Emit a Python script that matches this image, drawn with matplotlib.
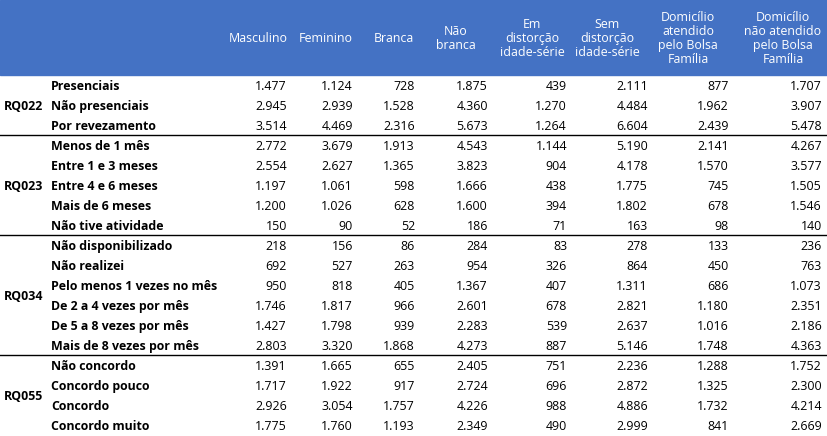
import matplotlib.pyplot as plt

headers = ["Masculino", "Feminino", "Branca", "Não\nbranca", "Em\ndistorção\nidade-série",
           "Sem\ndistorção\nidade-série", "Domicílio\natendido\npelo Bolsa\nFamília",
           "Domicílio\nnão atendido\npelo Bolsa\nFamília"]
groups = ["RQ022", "RQ023", "RQ034", "RQ055"]
labels = [
    ["Presenciais", "Não presenciais", "Por revezamento"],
    ["Menos de 1 mês", "Entre 1 e 3 meses", "Entre 4 e 6 meses", "Mais de 6 meses", "Não tive atividade"],
    ["Não disponibilizado", "Não realizei", "Pelo menos 1 vezes no mês", "De 2 a 4 vezes por mês",
     "De 5 a 8 vezes por mês", "Mais de 8 vezes por mês"],
    ["Não concordo", "Concordo pouco", "Concordo", "Concordo muito"],
]
values = [
    [["1.477", "1.124", "728", "1.875", "439", "2.111", "877", "1.707"],
     ["2.945", "2.939", "1.528", "4.360", "1.270", "4.484", "1.962", "3.907"],
     ["3.514", "4.469", "2.316", "5.673", "1.264", "6.604", "2.439", "5.478"]],
    [["2.772", "3.679", "1.913", "4.543", "1.144", "5.190", "2.141", "4.267"],
     ["2.554", "2.627", "1.365", "3.823", "904", "4.178", "1.570", "3.577"],
     ["1.197", "1.061", "598", "1.666", "438", "1.775", "745", "1.505"],
     ["1.200", "1.026", "628", "1.600", "394", "1.802", "678", "1.546"],
     ["150", "90", "52", "186", "71", "163", "98", "140"]],
    [["218", "156", "86", "284", "83", "278", "133", "236"],
     ["692", "527", "263", "954", "326", "864", "450", "763"],
     ["950", "818", "405", "1.367", "407", "1.311", "686", "1.073"],
     ["1.746", "1.817", "966", "2.601", "678", "2.821", "1.180", "2.351"],
     ["1.427", "1.798", "939", "2.283", "539", "2.637", "1.016", "2.186"],
     ["2.803", "3.320", "1.868", "4.273", "887", "5.146", "1.748", "4.363"]],
    [["1.391", "1.665", "655", "2.405", "751", "2.236", "1.288", "1.752"],
     ["1.717", "1.922", "917", "2.724", "696", "2.872", "1.325", "2.300"],
     ["2.926", "3.054", "1.757", "4.226", "988", "4.886", "1.732", "4.214"],
     ["1.775", "1.760", "1.193", "2.349", "490", "2.999", "841", "2.669"]],
]

W, H = 827, 436
fig = plt.figure(figsize=(W / 100, H / 100), dpi=100)
ax = fig.add_axes([0, 0, 1, 1])
ax.set_xlim(0, W)
ax.set_ylim(H, 0)
ax.axis("off")

font = "Open Sans"
fs = 8.9
head_h = 75
row_h = 20
head_x = [258, 326, 394, 456, 532, 607, 688, 783]
val_right = [287, 353, 415, 488, 567, 648, 729, 822]

ax.add_patch(plt.Rectangle((0, 0), W, head_h, color="#4472C4"))
for x, h in zip(head_x, headers):
    ax.text(x, head_h / 2 + 1, h, ha="center", va="center", color="white",
            fontsize=fs, family=font, linespacing=1.1)

y = head_h + 1
for gi, g in enumerate(groups):
    n = len(labels[gi])
    ax.text(4, y + n * row_h / 2, g, ha="left", va="center", fontsize=fs,
            family=font, weight="bold")
    for ri in range(n):
        cy = y + row_h * ri + row_h / 2
        ax.text(51, cy, labels[gi][ri], ha="left", va="center", fontsize=fs,
                family=font, weight="bold")
        for ci, v in enumerate(values[gi][ri]):
            ax.text(val_right[ci], cy, v, ha="right", va="center", fontsize=fs, family=font)
    y += n * row_h
    if gi < len(groups) - 1:
        ax.plot([0, W], [y - 1, y - 1], color="black", lw=1)

fig.savefig("out.png", dpi=100)
